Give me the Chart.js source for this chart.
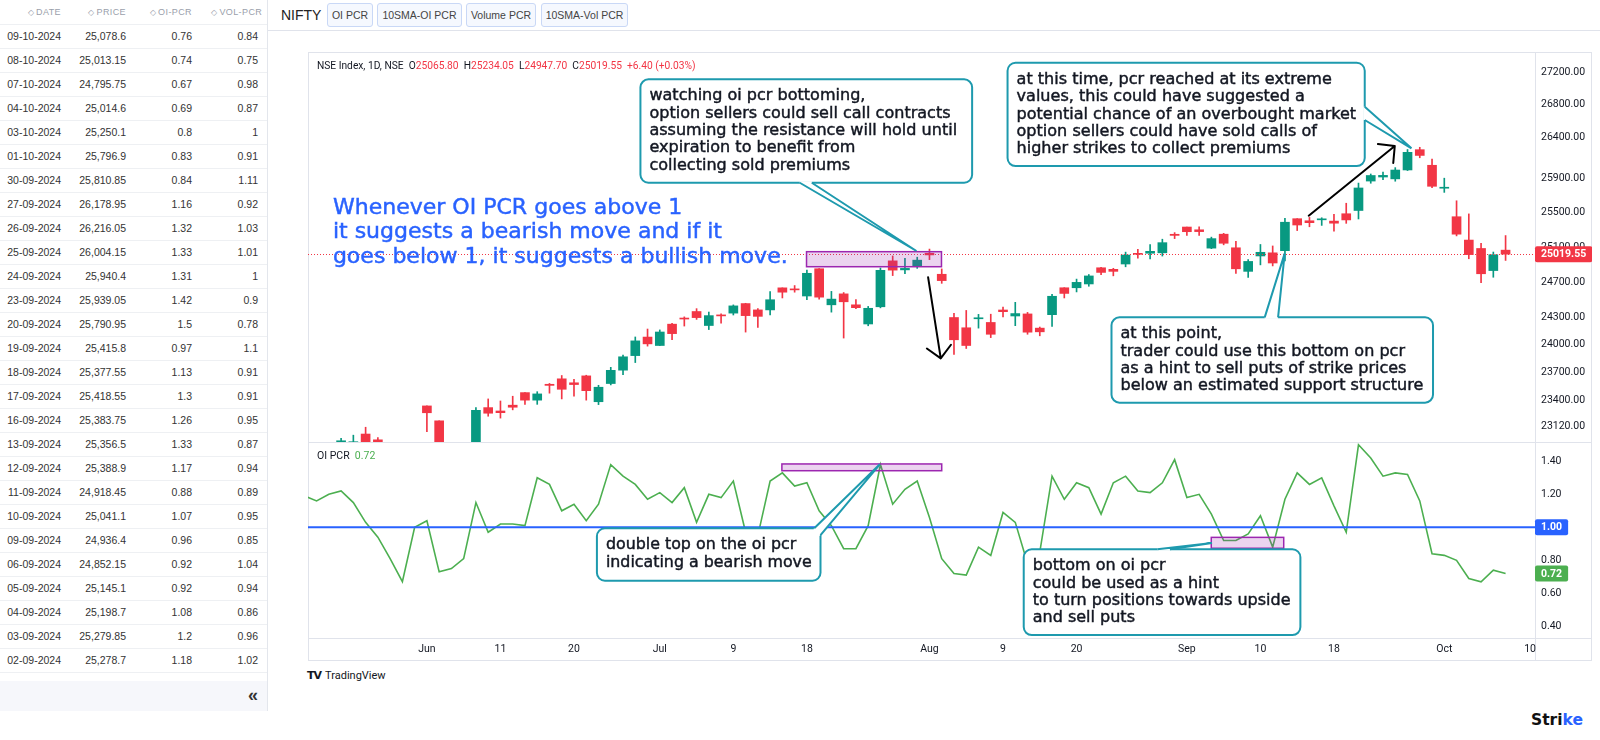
<!DOCTYPE html>
<html>
<head>
<meta charset="utf-8">
<title>NIFTY OI PCR</title>
<style>
  html, body { margin: 0; padding: 0; }
  body { width: 1600px; height: 740px; position: relative; overflow: hidden; background: #fff;
         font-family: "Liberation Sans", Arial, sans-serif; color: #333; }
  #side { position: absolute; left: 0; top: 0; width: 267px; height: 711px; border-right: 1px solid #e3e6ec; overflow: hidden; }
  .row { position: absolute; left: 0; width: 267px; height: 24px; border-bottom: 1px solid #eef0f3; box-sizing: border-box; font-size: 10.5px; }
  .row span { position: absolute; top: 0; line-height: 23px; text-align: right; white-space: nowrap; }
  .head span { color: #9aa0ab; font-size: 9px; letter-spacing: 0.4px; }
  .head span i { font-style: normal; font-size: 8px; margin-right: 2px; }
  #foot { position: absolute; left: 0; top: 681px; width: 267px; height: 30px; background: #f6f7fb; }
  #foot b { position: absolute; right: 9px; top: 4px; font-size: 18px; color: #333; }
  #bar { position: absolute; left: 268px; top: 0; right: 0; height: 30px; border-bottom: 1px solid #e0e3eb; }
  #bar .name { position: absolute; left: 13px; top: 7px; font-size: 14px; color: #222; }
  #bar .btn { position: absolute; top: 3px; height: 24px; box-sizing: border-box; border: 1px solid #c9d8f6; border-radius: 3px;
              background: #f5f8fe; font-size: 10.5px; color: #444; line-height: 22px; text-align: center; }
  #frame { position: absolute; left: 308px; top: 52px; width: 1284px; height: 609px; box-sizing: border-box; border: 1px solid #e0e3eb; }
  .hl { position: absolute; height: 1px; background: #e0e3eb; }
  .vl { position: absolute; width: 1px; background: #e0e3eb; }
  canvas { position: absolute; }
  #tv { position: absolute; left: 307px; top: 669px; font: 11px Roboto, sans-serif; color: #131722; }
  #tv b { font: bold 11px "DejaVu Sans", sans-serif; margin-right: 4px; letter-spacing: -1px; }
  #strike { position: absolute; left: 1531px; top: 711px; font: bold 15.5px "DejaVu Sans", sans-serif; color: #111; }
  #strike span { color: #2962ff; }
</style>
</head>
<body>
<div id="side"></div>
<div id="bar">
  <div class="name">NIFTY</div>
  <div class="btn" style="left:59px;width:46px">OI PCR</div>
  <div class="btn" style="left:109px;width:85px">10SMA-OI PCR</div>
  <div class="btn" style="left:198px;width:70px">Volume PCR</div>
  <div class="btn" style="left:273px;width:87px">10SMA-Vol PCR</div>
</div>
<div id="frame"></div>
<div class="hl" style="left:308px;top:442px;width:1284px"></div>
<div class="hl" style="left:308px;top:638px;width:1284px"></div>
<div class="vl" style="left:1535px;top:52px;height:609px"></div>
<canvas id="price" width="1284" height="390" style="left:308px;top:52px"></canvas>
<canvas id="pcr" width="1284" height="218" style="left:308px;top:443px"></canvas>
<div id="tv"><b>TV</b>TradingView</div>
<div id="strike">Stri<span>ke</span></div>

<script src="https://cdnjs.cloudflare.com/ajax/libs/Chart.js/4.4.1/chart.umd.js"></script>
<script>
  // trading days, May 17 .. Oct 9 2024 (x index 0 = 03-06)
  const dates = [
    '17-05','21-05','22-05','23-05','24-05','27-05','28-05','29-05','30-05','31-05',
    '03-06','04-06','05-06','06-06','07-06','10-06','11-06','12-06','13-06','14-06','18-06','19-06','20-06','21-06','24-06','25-06','26-06','27-06','28-06',
    '01-07','02-07','03-07','04-07','05-07','08-07','09-07','10-07','11-07','12-07','15-07','16-07','18-07','19-07','22-07','23-07','24-07','25-07','26-07','29-07','30-07','31-07',
    '01-08','02-08','05-08','06-08','07-08','08-08','09-08','12-08','13-08','14-08','16-08','19-08','20-08','21-08','22-08','23-08','26-08','27-08','28-08','29-08','30-08',
    '02-09','03-09','04-09','05-09','06-09','09-09','10-09','11-09','12-09','13-09','16-09','17-09','18-09','19-09','20-09','23-09','24-09','25-09','26-09','27-09','30-09',
    '01-10','03-10','04-10','07-10','08-10','09-10'
  ];
  const firstIdx = -10;

  const opens = [
    22415, 22405, 22577, 22614, 22930, 23038, 22977, 22763, 22617, 22568,
    23337, 23179, 22128, 22798, 22821, 23319, 23283, 23345, 23480, 23399, 23570, 23629, 23586, 23661, 23382, 23578, 23723, 23882, 24086,
    23993, 24229, 24292, 24370, 24214, 24329, 24352, 24459, 24388, 24388, 24636, 24615, 24544, 24853, 24445, 24568, 24445, 24231, 24423, 24943, 24840, 24887,
    25030, 24790, 24303, 24189, 24289, 24248, 24387, 24320, 24343, 24185, 24335, 24637, 24637, 24680, 24864, 24846, 24907, 25025, 25030, 25035, 25249,
    25333, 25301, 25089, 25250, 25093, 24823, 24999, 25035, 25060, 25430, 25406, 25417, 25402, 25488, 25526, 25873, 25921, 25899, 26005, 26248, 26061,
    25788, 25453, 25182, 25085, 24832, 25065.8
  ];
  const highs = [
    22502, 22591, 22629, 22993, 23026, 23110, 23000, 22825, 22705, 22653,
    23339, 23179, 22671, 22910, 23320, 23412, 23390, 23441, 23481, 23490, 23579, 23665, 23624, 23668, 23559, 23754, 23889, 24087, 24175,
    24165, 24237, 24310, 24402, 24364, 24345, 24444, 24462, 24403, 24593, 24636, 24662, 24838, 24855, 24596, 24583, 24504, 24427, 24861, 24999, 24972, 24985,
    25078, 24851, 24350, 24382, 24338, 24340, 24420, 24473, 24360, 24197, 24564, 24638, 24735, 24787, 24868, 24858, 25043, 25074, 25129, 25192, 25268,
    25333, 25334, 25216, 25260, 25168, 24958, 25131, 25114, 25434, 25431, 25445, 25441, 25482, 25611, 25849, 25957, 25979, 26033, 26250, 26277, 26134,
    25907, 25640, 25486, 25143, 25044, 25234.05
  ];
  const lows = [
    22345, 22404, 22483, 22577, 22908, 22871, 22858, 22685, 22417, 22465,
    23062, 21281, 21791, 22642, 22789, 23227, 23207, 23295, 23354, 23354, 23474, 23412, 23443, 23399, 23351, 23563, 23674, 23806, 23986,
    23993, 24057, 24208, 24282, 24169, 24240, 24331, 24141, 24194, 24332, 24522, 24587, 24504, 24508, 24363, 24075, 24401, 24211, 24411, 24775, 24798, 24857,
    24957, 24687, 23894, 23960, 24185, 24080, 24311, 24212, 24117, 24100, 24205, 24522, 24590, 24654, 24784, 24772, 24875, 24973, 24965, 24998, 25199,
    25235, 25235, 25083, 25127, 24801, 24753, 24897, 24885, 24942, 25292, 25336, 25352, 25285, 25376, 25427, 25847, 25888, 25871, 25998, 26151, 25794,
    25739, 25230, 24967, 24694, 24756, 24947.7
  ];
  const closes = [
    22467, 22529, 22598, 22967, 22957, 22932, 22888, 22704, 22488, 22531,
    23264, 21884, 22620, 22821, 23290, 23259, 23265, 23323, 23399, 23466, 23558, 23516, 23567, 23501, 23538, 23721, 23869, 24044, 24011,
    24142, 24124, 24286, 24302, 24324, 24321, 24433, 24324, 24316, 24502, 24587, 24613, 24801, 24531, 24509, 24479, 24413, 24406, 24835, 24837, 24857, 24951,
    25011, 24718, 24056, 23993, 24297, 24117, 24368, 24347, 24140, 24144, 24541, 24573, 24698, 24771, 24811, 24823, 25010, 25018, 25052, 25152, 25236,
    25278.7, 25279.85, 25198.7, 25145.1, 24852.15, 24936.4, 25041.1, 24918.45, 25388.9, 25356.5, 25383.75, 25418.55, 25377.55, 25415.8, 25790.95, 25939.05, 25940.4, 26004.15, 26216.05, 26178.95, 25810.85,
    25796.9, 25250.1, 25014.6, 24795.75, 25013.15, 25019.55
  ];
  const oiPcr = [
    1.19, 1.16, 1.20, 1.22, 1.15, 1.03, 0.94, 0.81, 0.67, 1.00,
    1.04, 0.73, 0.75, 0.81, 1.15, 0.97, 1.02, 1.02, 1.01, 1.30, 1.26, 1.10, 1.14, 1.04, 1.14, 1.38, 1.31, 1.26, 1.17,
    1.21, 1.15, 1.24, 1.03, 1.20, 1.18, 1.28, 0.97, 0.95, 1.28, 1.33, 1.25, 1.27, 1.10, 1.01, 0.87, 0.87, 1.01, 1.38, 1.14, 1.23, 1.28,
    1.06, 0.81, 0.72, 0.71, 0.88, 0.83, 1.09, 1.03, 0.78, 0.85, 1.31, 1.17, 1.27, 1.24, 1.08, 1.27, 1.31, 1.22, 1.21, 1.27, 1.41,
    1.18, 1.20, 1.08, 0.92, 0.92, 0.96, 1.07, 0.88, 1.17, 1.33, 1.26, 1.30, 1.13, 0.97, 1.50, 1.42, 1.31, 1.33, 1.32, 1.16, 0.84,
    0.83, 0.80, 0.69, 0.67, 0.74, 0.72
  ];
  const pcrLevel = 1;

  const priceTicks = [23120, 23400, 23700, 24000, 24300, 24700, 25100, 25500, 25900, 26400, 26800, 27200];
  const pcrTicks = [0.4, 0.6, 0.8, 1.0, 1.2, 1.4];
  const timeTickIdx = [0, 6, 12, 19, 25, 31, 41, 47, 53, 62, 68, 74, 83, 90];
  const timeTickLabels = ['Jun', '11', '20', 'Jul', '9', '18', 'Aug', '9', '20', 'Sep', '10', '18', 'Oct', '10'];

  // side table
  const tableDates = ['09-10-2024','08-10-2024','07-10-2024','04-10-2024','03-10-2024','01-10-2024','30-09-2024','27-09-2024','26-09-2024',
    '25-09-2024','24-09-2024','23-09-2024','20-09-2024','19-09-2024','18-09-2024','17-09-2024','16-09-2024','13-09-2024','12-09-2024',
    '11-09-2024','10-09-2024','09-09-2024','06-09-2024','05-09-2024','04-09-2024','03-09-2024','02-09-2024'];
  const tablePrice = [25078.6, 25013.15, 24795.75, 25014.6, 25250.1, 25796.9, 25810.85, 26178.95, 26216.05, 26004.15, 25940.4, 25939.05,
    25790.95, 25415.8, 25377.55, 25418.55, 25383.75, 25356.5, 25388.9, 24918.45, 25041.1, 24936.4, 24852.15, 25145.1, 25198.7, 25279.85, 25278.7];
  const tableOi = [0.76, 0.74, 0.67, 0.69, 0.8, 0.83, 0.84, 1.16, 1.32, 1.33, 1.31, 1.42, 1.5, 0.97, 1.13, 1.3, 1.26, 1.33, 1.17, 0.88,
    1.07, 0.96, 0.92, 0.92, 1.08, 1.2, 1.18];
  const tableVol = [0.84, 0.75, 0.98, 0.87, 1, 0.91, 1.11, 0.92, 1.03, 1.01, 1, 0.9, 0.78, 1.1, 0.91, 0.91, 0.95, 0.87, 0.94, 0.89,
    0.95, 0.85, 1.04, 0.94, 0.86, 0.96, 1.02];

  // view ranges of the two panes
  const X_MIN = -9.7, X_MAX = 90.4;
  const PRICE_MIN = 22954, PRICE_MAX = 27451;
  const PCR_MIN = 0.329, PCR_MAX = 1.511;

  const UP = '#089981', DOWN = '#f23645', TEAL = '#1e9aae', INK = '#131722';
  const NOTE_FONT = '"DejaVu Sans", sans-serif';

  // drawings, anchored in (bar index, value)
  const priceNotes = {
    zone: { x0: 30.97, y0: 25048, x1: 41.98, y1: 24876 },
    headline: { x: -7.67, y: 25555, width: 455, lines: ['Whenever OI PCR goes above 1', 'it suggests a bearish move and if it', 'goes below 1, it suggests a bullish move.'] },
    boxes: [
      { x0: 17.42, y0: 27109, x1: 44.48, y1: 25853, tail: [[30.42, 25853], [31.4, 25853], [39.94, 25056]], width: 308,
        lines: ['watching oi pcr bottoming,', 'option sellers could sell call contracts', 'assuming the resistance will hold until', 'expiration to benefit from', 'collecting sold premiums'] },
      { x0: 47.37, y0: 27316, x1: 76.51, y1: 26052, tail: [[76.51, 26770], [76.51, 26608], [80.32, 26264]], width: 340,
        lines: ['at this time, pcr reached at its extreme', 'values, this could have suggested a', 'potential chance of an overbought market', 'option sellers could have sold calls of', 'higher strikes to collect premiums'] },
      { x0: 55.85, y0: 24305, x1: 82.08, y1: 23372, tail: [[68.35, 24305], [69.44, 24305], [69.98, 25029]], width: 303,
        lines: ['at this point,', 'trader could use this bottom on pcr', 'as a hint to sell puts of strike prices', 'below an estimated support structure'] }
    ],
    arrows: [
      { from: [40.89, 24755], to: [41.92, 23852] },
      { from: [71.94, 25465], to: [78.96, 26292] }
    ]
  };
  const pcrNotes = {
    zones: [
      { x0: 28.96, y0: 1.384, x1: 42.0, y1: 1.343 },
      { x0: 63.99, y0: 0.939, x1: 69.9, y1: 0.873 }
    ],
    boxes: [
      { x0: 13.87, y0: 0.994, x1: 32.11, y1: 0.676, tail: [[31.6, 0.994], [32.11, 0.953], [36.95, 1.382]], width: 206,
        lines: ['double top on the oi pcr', 'indicating a bearish move'] },
      { x0: 48.69, y0: 0.867, x1: 71.26, y1: 0.347, tail: [[59.59, 0.867], [60.62, 0.867], [64.05, 0.905]], width: 258,
        lines: ['bottom on oi pcr', 'could be used as a hint', 'to turn positions towards upside', 'and sell puts'] }
    ]
  };

  // ---- side table
  const side = document.getElementById('side');
  const cols = [206, 141, 75];
  let html = '<div class="row head" style="top:1px">' +
    '<span style="right:206px"><i>&#9671;</i>DATE</span>' +
    '<span style="right:141px"><i>&#9671;</i>PRICE</span>' +
    '<span style="right:75px"><i>&#9671;</i>OI-PCR</span>' +
    '<span style="left:205px;width:53px;overflow:hidden;text-align:left;padding-left:6px"><i>&#9671;</i>VOL-PCR</span></div>';
  tableDates.forEach((d, i) => {
    html += '<div class="row" style="top:' + (25 + i * 24) + 'px">' +
      '<span style="right:' + cols[0] + 'px">' + d + '</span>' +
      '<span style="right:' + cols[1] + 'px">' + tablePrice[i].toLocaleString('en-US', { maximumFractionDigits: 2 }) + '</span>' +
      '<span style="right:' + cols[2] + 'px">' + tableOi[i] + '</span>' +
      '<span style="right:9px">' + tableVol[i] + '</span></div>';
  });
  html += '<div class="row" style="top:' + (25 + tableDates.length * 24) + 'px"></div>';
  html += '<div id="foot"><b>&laquo;</b></div>';
  side.innerHTML = html;

  // ---- helpers
  Chart.defaults.font.family = 'Roboto, sans-serif';

  function toPx(chart, p) {
    return [chart.scales.x.getPixelForValue(p[0]), chart.scales.y.getPixelForValue(p[1])];
  }

  function fitSize(ctx, lines, width, weight, family) {
    ctx.font = weight + ' 40px ' + family;
    let w = 0;
    lines.forEach(l => { w = Math.max(w, ctx.measureText(l).width); });
    return 40 * width / w;
  }

  // slightly heavier than regular, like the drawing text of the original
  function heavyText(ctx, text, x, y, color) {
    ctx.fillStyle = color;
    ctx.strokeStyle = color;
    ctx.lineWidth = 0.45;
    ctx.fillText(text, x, y);
    ctx.strokeText(text, x, y);
  }

  function roundRect(ctx, x, y, w, h, r) {
    ctx.beginPath();
    ctx.moveTo(x + r, y);
    ctx.arcTo(x + w, y, x + w, y + h, r);
    ctx.arcTo(x + w, y + h, x, y + h, r);
    ctx.arcTo(x, y + h, x, y, r);
    ctx.arcTo(x, y, x + w, y, r);
    ctx.closePath();
  }

  function drawZone(ctx, chart, z) {
    const [x0, y0] = toPx(chart, [z.x0, z.y0]);
    const [x1, y1] = toPx(chart, [z.x1, z.y1]);
    ctx.save();
    ctx.fillStyle = 'rgba(156, 39, 176, 0.2)';
    ctx.fillRect(x0, y0, x1 - x0, y1 - y0);
    ctx.strokeStyle = '#9c27b0';
    ctx.lineWidth = 1.5;
    ctx.strokeRect(x0, y0, x1 - x0, y1 - y0);
    ctx.restore();
  }

  function drawCallout(ctx, chart, b) {
    const [l, t] = toPx(chart, [b.x0, b.y0]);
    const [r, btm] = toPx(chart, [b.x1, b.y1]);
    const [p1, p2, tip] = b.tail.map(p => toPx(chart, p));
    ctx.save();
    ctx.lineWidth = 2;
    ctx.strokeStyle = TEAL;
    ctx.fillStyle = '#fff';
    roundRect(ctx, l, t, r - l, btm - t, 8);
    ctx.fill();
    ctx.stroke();
    ctx.beginPath();
    ctx.moveTo(p1[0], p1[1]); ctx.lineTo(tip[0], tip[1]); ctx.lineTo(p2[0], p2[1]);
    ctx.closePath();
    ctx.fill();
    // open the border where the tail leaves the box
    ctx.strokeStyle = '#fff';
    ctx.lineWidth = 3;
    ctx.beginPath();
    ctx.moveTo(p1[0], p1[1]); ctx.lineTo(p2[0], p2[1]);
    ctx.stroke();
    ctx.strokeStyle = TEAL;
    ctx.lineWidth = 2;
    ctx.beginPath();
    ctx.moveTo(p1[0], p1[1]); ctx.lineTo(tip[0], tip[1]); ctx.lineTo(p2[0], p2[1]);
    ctx.stroke();

    const size = fitSize(ctx, b.lines, b.width, 'normal', NOTE_FONT);
    ctx.font = size + 'px ' + NOTE_FONT;
    ctx.textAlign = 'left';
    ctx.textBaseline = 'middle';
    b.lines.forEach((line, i) => heavyText(ctx, line, l + 9, t + 17 + i * 17.3, INK));
    ctx.restore();
  }

  function drawArrow(ctx, chart, a) {
    const [x0, y0] = toPx(chart, a.from);
    const [x1, y1] = toPx(chart, a.to);
    const ang = Math.atan2(y1 - y0, x1 - x0);
    ctx.save();
    ctx.strokeStyle = '#000';
    ctx.lineWidth = 2;
    ctx.lineCap = 'round';
    ctx.beginPath();
    ctx.moveTo(x0, y0); ctx.lineTo(x1, y1);
    [-1, 1].forEach(s => {
      const a2 = ang + Math.PI + s * 0.8;
      ctx.moveTo(x1, y1);
      ctx.lineTo(x1 + 17 * Math.cos(a2), y1 + 17 * Math.sin(a2));
    });
    ctx.stroke();
    ctx.restore();
  }

  function badge(ctx, x, y, text, bg) {
    ctx.save();
    ctx.font = 'bold 10.5px Roboto, sans-serif';
    const w = ctx.measureText(text).width + 12;
    ctx.fillStyle = bg;
    roundRect(ctx, x, y - 8, w, 16, 2);
    ctx.fill();
    ctx.fillStyle = '#fff';
    ctx.textAlign = 'left';
    ctx.textBaseline = 'middle';
    ctx.fillText(text, x + 6, y + 0.5);
    ctx.restore();
  }

  function pieces(ctx, x, y, list) {
    list.forEach(p => {
      ctx.fillStyle = p[1];
      ctx.fillText(p[0], x, y);
      x += ctx.measureText(p[0]).width;
    });
  }

  const lastI = closes.length - 1;
  const candleColors = closes.map((c, i) => (c >= opens[i] ? UP : DOWN));

  const priceDrawings = {
    id: 'priceDrawings',
    afterDraw(chart) {
      const ctx = chart.ctx;
      const area = chart.chartArea;
      const yClose = chart.scales.y.getPixelForValue(closes[lastI]);
      const lastColor = candleColors[lastI];

      ctx.save();
      ctx.beginPath();
      ctx.rect(area.left, area.top, area.right - area.left, area.bottom - area.top);
      ctx.clip();

      ctx.strokeStyle = lastColor;
      ctx.lineWidth = 1;
      ctx.setLineDash([1, 2]);
      ctx.beginPath();
      ctx.moveTo(area.left, Math.round(yClose) + 0.5);
      ctx.lineTo(area.right, Math.round(yClose) + 0.5);
      ctx.stroke();
      ctx.setLineDash([]);

      drawZone(ctx, chart, priceNotes.zone);

      const hl = priceNotes.headline;
      const [hx, hy] = toPx(chart, [hl.x, hl.y]);
      const hs = fitSize(ctx, hl.lines, hl.width, 'normal', NOTE_FONT);
      ctx.font = hs + 'px ' + NOTE_FONT;
      ctx.textAlign = 'left';
      ctx.textBaseline = 'middle';
      hl.lines.forEach((line, i) => heavyText(ctx, line, hx, hy + i * 24.5, '#2962ff'));

      priceNotes.arrows.forEach(a => drawArrow(ctx, chart, a));
      priceNotes.boxes.forEach(b => drawCallout(ctx, chart, b));

      // legend line
      const chg = closes[lastI] - closes[lastI - 1];
      const pct = chg / closes[lastI - 1] * 100;
      const sign = chg >= 0 ? '+' : '';
      const legend = [
        ['NSE Index, 1D, NSE  ', INK],
        ['O', INK], [opens[lastI].toFixed(2), lastColor],
        ['  H', INK], [highs[lastI].toFixed(2), lastColor],
        ['  L', INK], [lows[lastI].toFixed(2), lastColor],
        ['  C', INK], [closes[lastI].toFixed(2), lastColor],
        ['  ' + sign + chg.toFixed(2) + ' (' + sign + pct.toFixed(2) + '%)', lastColor]
      ];
      const ls = fitSize(ctx, [legend.map(p => p[0]).join('')], 379, 'normal', 'Roboto, sans-serif');
      ctx.font = ls + 'px Roboto, sans-serif';
      pieces(ctx, area.left + 9, area.top + 14, legend);
      ctx.restore();

      badge(ctx, area.right, yClose, closes[lastI].toFixed(2), lastColor);
    }
  };

  const pcrDrawings = {
    id: 'pcrDrawings',
    afterDraw(chart) {
      const ctx = chart.ctx;
      const area = chart.chartArea;
      ctx.save();
      ctx.beginPath();
      ctx.rect(area.left, area.top, area.right - area.left, area.bottom - area.top);
      ctx.clip();
      pcrNotes.zones.forEach(z => drawZone(ctx, chart, z));
      pcrNotes.boxes.forEach(b => drawCallout(ctx, chart, b));

      ctx.font = '10.5px Roboto, sans-serif';
      ctx.textAlign = 'left';
      ctx.textBaseline = 'middle';
      pieces(ctx, area.left + 9, area.top + 13, [['OI PCR  ', INK], [oiPcr[lastI].toFixed(2), '#4caf50']]);
      ctx.restore();

      badge(ctx, area.right, chart.scales.y.getPixelForValue(pcrLevel), pcrLevel.toFixed(2), '#2962ff');
      badge(ctx, area.right, chart.scales.y.getPixelForValue(oiPcr[lastI]), oiPcr[lastI].toFixed(2), '#4caf50');
    }
  };

  const axisTicks = { color: INK, font: { size: 10.5 }, padding: 6 };

  // ---- price pane (candles as floating bars)
  new Chart(document.getElementById('price'), {
    type: 'bar',
    data: {
      datasets: [
        {
          label: 'body',
          data: dates.map((d, i) => ({ x: i + firstIdx, y: [opens[i], closes[i]] })),
          backgroundColor: candleColors,
          barThickness: 9,
          minBarLength: 1,
          grouped: false,
          order: 0
        },
        {
          label: 'wick',
          data: dates.map((d, i) => ({ x: i + firstIdx, y: [lows[i], highs[i]] })),
          backgroundColor: candleColors,
          barThickness: 1,
          grouped: false,
          order: 1
        }
      ]
    },
    options: {
      responsive: false,
      animation: false,
      events: [],
      layout: { padding: 0 },
      plugins: { legend: { display: false }, tooltip: { enabled: false } },
      scales: {
        x: { type: 'linear', min: X_MIN, max: X_MAX, offset: false, display: false },
        y: {
          type: 'logarithmic',
          position: 'right',
          min: PRICE_MIN,
          max: PRICE_MAX,
          bounds: 'data',
          afterBuildTicks: s => { s.ticks = priceTicks.map(v => ({ value: v })); },
          afterFit: s => { s.width = 57; s.paddingTop = 0; s.paddingBottom = 0; },
          grid: { display: false, drawTicks: false },
          border: { display: false },
          ticks: Object.assign({ callback: v => Number(v).toFixed(2) }, axisTicks)
        }
      }
    },
    plugins: [priceDrawings]
  });

  // ---- OI PCR pane
  new Chart(document.getElementById('pcr'), {
    type: 'line',
    data: {
      datasets: [
        {
          label: 'level',
          data: [{ x: X_MIN - 1, y: pcrLevel }, { x: X_MAX + 1, y: pcrLevel }],
          borderColor: '#2962ff',
          borderWidth: 2,
          pointRadius: 0,
          order: 0
        },
        {
          label: 'OI PCR',
          data: oiPcr.map((v, i) => ({ x: i + firstIdx, y: v })),
          borderColor: '#4caf50',
          borderWidth: 1.6,
          pointRadius: 0,
          tension: 0,
          order: 1
        }
      ]
    },
    options: {
      responsive: false,
      animation: false,
      events: [],
      layout: { padding: 0 },
      plugins: { legend: { display: false }, tooltip: { enabled: false } },
      scales: {
        x: {
          type: 'linear',
          min: X_MIN,
          max: X_MAX,
          offset: false,
          afterBuildTicks: s => { s.ticks = timeTickIdx.map(v => ({ value: v })); },
          afterFit: s => { s.height = 23; s.paddingLeft = 0; s.paddingRight = 0; },
          grid: { display: false, drawTicks: false },
          border: { display: false },
          ticks: {
            autoSkip: false,
            maxRotation: 0,
            padding: 5,
            color: INK,
            font: { size: 10.5 },
            callback: v => timeTickLabels[timeTickIdx.indexOf(v)]
          }
        },
        y: {
          type: 'linear',
          position: 'right',
          min: PCR_MIN,
          max: PCR_MAX,
          afterBuildTicks: s => { s.ticks = pcrTicks.map(v => ({ value: v })); },
          afterFit: s => { s.width = 57; s.paddingTop = 0; s.paddingBottom = 0; },
          grid: { display: false, drawTicks: false },
          border: { display: false },
          ticks: Object.assign({ callback: v => Number(v).toFixed(2) }, axisTicks)
        }
      }
    },
    plugins: [pcrDrawings]
  });
</script>
</body>
</html>
